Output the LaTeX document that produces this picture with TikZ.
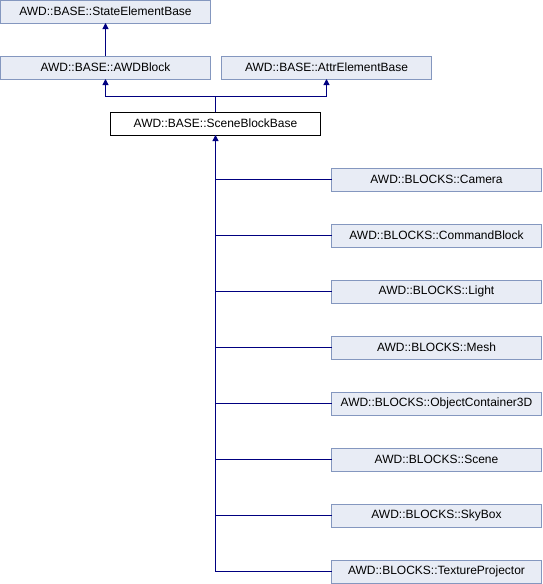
\documentclass[tikz,border=0pt]{standalone}
\usepackage{fontspec}
\setmainfont{Liberation Sans}
\usetikzlibrary{arrows.meta}
\definecolor{boxfill}{RGB}{232,236,245}
\definecolor{boxline}{RGB}{132,151,191}
\definecolor{edgecol}{RGB}{0,0,128}
\begin{document}
\begin{tikzpicture}[x=1pt,y=-1pt,
  cls/.style={draw=boxline,fill=boxfill,line width=1pt,minimum width=210pt,minimum height=23pt,inner sep=0pt,outer sep=0pt,font=\fontsize{12}{14}\selectfont},
  cur/.style={cls,draw=black,fill=white},
  conn/.style={draw=edgecol,line width=1pt},
  inh/.style={conn,-{Triangle[length=6pt,width=6pt]}}]
\useasboundingbox (0,0) rectangle (542,584);
\node[cls] (state) at (105.5,11.5) {AWD::BASE::StateElementBase};
\node[cls] (awd) at (105.5,67.5) {AWD::BASE::AWDBlock};
\node[cls] (attr) at (326.5,67.5) {AWD::BASE::AttrElementBase};
\node[cur] (sbb) at (215.5,123.5) {AWD::BASE::SceneBlockBase};
\node[cls] (cam) at (436.5,179.5) {AWD::BLOCKS::Camera};
\node[cls] (cmd) at (436.5,235.5) {AWD::BLOCKS::CommandBlock};
\node[cls] (light) at (436.5,291.5) {AWD::BLOCKS::Light};
\node[cls] (mesh) at (436.5,347.5) {AWD::BLOCKS::Mesh};
\node[cls] (oc) at (436.5,403.5) {AWD::BLOCKS::ObjectContainer3D};
\node[cls] (scene) at (436.5,459.5) {AWD::BLOCKS::Scene};
\node[cls] (sky) at (436.5,515.5) {AWD::BLOCKS::SkyBox};
\node[cls] (tp) at (436.5,571.5) {AWD::BLOCKS::TextureProjector};
\draw[inh] (awd.north) -- (state.south);
\draw[inh] (sbb.north) -- ++(0,-16) -| (awd.south);
\draw[inh] (sbb.north) -- ++(0,-16) -| (attr.south);
\foreach \c in {cam,cmd,light,mesh,oc,scene,sky}{
  \draw[conn] (\c.west) -| (sbb.south);
}
\draw[inh] (tp.west) -| (sbb.south);
\end{tikzpicture}
\end{document}
